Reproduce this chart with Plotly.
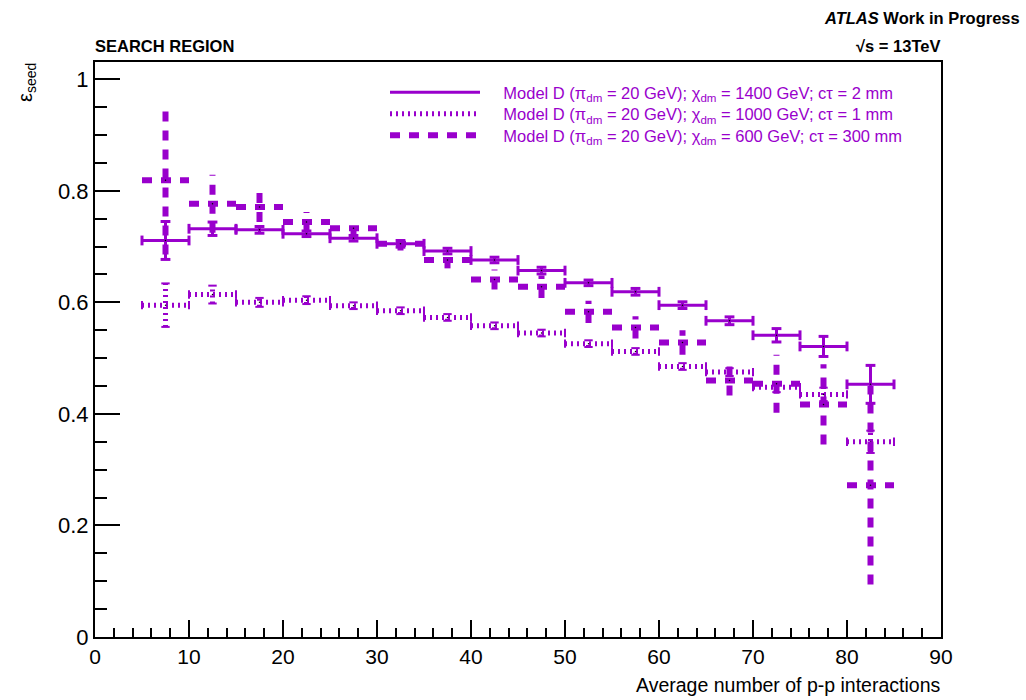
import plotly.graph_objects as go

# ---------------- data ----------------
bin_centers = [7.5, 12.5, 17.5, 22.5, 27.5, 32.5, 37.5, 42.5, 47.5, 52.5,
               57.5, 62.5, 67.5, 72.5, 77.5, 82.5]
bin_halfwidth = 2.5

eff_1400 = [0.711, 0.732, 0.730, 0.723, 0.715, 0.705, 0.692, 0.676, 0.657, 0.635,
            0.619, 0.595, 0.567, 0.541, 0.521, 0.453]
err_1400 = [0.034, 0.012, 0.006, 0.005, 0.005, 0.006, 0.005, 0.005, 0.006, 0.005,
            0.006, 0.006, 0.007, 0.012, 0.018, 0.034]

eff_1000 = [0.595, 0.614, 0.600, 0.604, 0.594, 0.585, 0.573, 0.558, 0.545, 0.526,
            0.512, 0.485, 0.475, 0.448, 0.435, 0.350]
err_1000 = [0.039, 0.016, 0.008, 0.007, 0.006, 0.006, 0.006, 0.006, 0.006, 0.006,
            0.006, 0.006, 0.007, 0.009, 0.012, 0.020]

eff_600 = [0.819, 0.777, 0.771, 0.744, 0.733, 0.705, 0.676, 0.641, 0.628, 0.583,
           0.555, 0.528, 0.460, 0.454, 0.417, 0.272]
err_600 = [0.133, 0.052, 0.027, 0.018, 0.015, 0.012, 0.015, 0.018, 0.020, 0.020,
           0.020, 0.022, 0.027, 0.052, 0.072, 0.178]

names = [
    "&nbsp;&nbsp;&nbsp;&nbsp;Model D (π<sub>dm</sub> = 20 GeV); χ<sub>dm</sub> = 1400 GeV; cτ = 2 mm",
    "&nbsp;&nbsp;&nbsp;&nbsp;Model D (π<sub>dm</sub> = 20 GeV); χ<sub>dm</sub> = 1000 GeV; cτ = 1 mm",
    "&nbsp;&nbsp;&nbsp;&nbsp;Model D (π<sub>dm</sub> = 20 GeV); χ<sub>dm</sub> = 600 GeV; cτ = 300 mm",
]

x_ticks = [0, 10, 20, 30, 40, 50, 60, 70, 80, 90]
y_ticks = [0, 0.2, 0.4, 0.6, 0.8, 1.0]
y_ticktext = ["0", "0.2", "0.4", "0.6", "0.8", "1"]

PURPLE = "#9900cc"
FONT = "Liberation Sans, Arial, Helvetica, sans-serif"


def segments(xc, y, ey, ex):
    xs, ys = [], []
    for xi, yi, e in zip(xc, y, ey):
        xs += [xi - ex, xi + ex, None, xi, xi, None]
        ys += [yi, yi, None, yi - e, yi + e, None]
    return xs, ys


fig = go.Figure()

series = [
    (eff_1400, err_1400, names[0], dict(width=3, dash="solid"), True, "legend"),
    (eff_1000, err_1000, names[1], dict(width=5, dash="2px,4px"), True, "legend2"),
    (eff_600, err_600, names[2], dict(width=6, dash="10px,9px"), False, "legend3"),
]

for i, (yv, ev, nm, ln, caps, lg) in enumerate(series):
    xs, ys = segments(bin_centers, yv, ev, bin_halfwidth)
    fig.add_trace(go.Scatter(x=xs, y=ys, mode="lines", name=nm, legend=lg,
                             line=dict(color=PURPLE, **ln),
                             hoverinfo="skip"))
    if caps:
        cw = 3 if i == 0 else 2
        cs = 7 if i == 0 else 6
        cx = [c + s * bin_halfwidth for c in bin_centers for s in (-1, 1)]
        cy = [v for v in yv for _ in (0, 1)]
        fig.add_trace(go.Scatter(x=cx, y=cy, mode="markers", showlegend=False,
                                 marker=dict(symbol="line-ns", size=cs,
                                             line=dict(color=PURPLE, width=cw)),
                                 hoverinfo="skip"))
        vx = [c for c in bin_centers for _ in (0, 1)]
        vy = [v + s * e for v, e in zip(yv, ev) for s in (-1, 1)]
        fig.add_trace(go.Scatter(x=vx, y=vy, mode="markers", showlegend=False,
                                 marker=dict(symbol="line-ew", size=cs,
                                             line=dict(color=PURPLE, width=cw)),
                                 hoverinfo="skip"))
    fig.add_trace(go.Scatter(x=bin_centers, y=yv, mode="markers", showlegend=False,
                             marker=dict(size=1.5, color="black"), hoverinfo="skip"))

axis_common = dict(showline=True, linewidth=2, linecolor="black", mirror=True,
                   showgrid=False, zeroline=False, ticks="inside",
                   tickcolor="black", tickwidth=1.5)

fig.update_xaxes(range=[0, 90], tickvals=x_ticks, ticklen=17,
                 tickfont=dict(family=FONT, size=21, color="black"),
                 minor=dict(dtick=2, ticklen=9, ticks="inside",
                            tickcolor="black", tickwidth=1.5),
                 **axis_common)
fig.update_yaxes(range=[0, 1.031], tickvals=y_ticks, ticktext=y_ticktext,
                 ticklen=25,
                 tickfont=dict(family=FONT, size=22, color="black"),
                 minor=dict(dtick=0.05, ticklen=12, ticks="inside",
                            tickcolor="black", tickwidth=1.5),
                 **axis_common)

PH = 700 - 62 - 62.5
PW = 846.0


def px(xp):
    return (xp - 95) / PW


def py(yp):
    return (637.5 - yp) / PH


def legend_at(top):
    return dict(x=px(385), y=py(top), xanchor="left", yanchor="top",
                bgcolor="rgba(0,0,0,0)", itemwidth=90, tracegroupgap=0,
                font=dict(family=FONT, size=16.5, color=PURPLE))


fig.update_layout(
    width=1026, height=700,
    margin=dict(l=95, r=85, t=62, b=62.5, pad=0),
    paper_bgcolor="white", plot_bgcolor="white",
    font=dict(family=FONT, color="black"),
    showlegend=True,
    legend=legend_at(75),
    legend2=legend_at(96.5),
    legend3=legend_at(118),
    annotations=[
        dict(text="<b>SEARCH REGION</b>", x=px(93), y=py(46), xref="paper", yref="paper",
             xanchor="left", yanchor="middle", showarrow=False,
             font=dict(family=FONT, size=16.5, color="black")),
        dict(text="<b><i>ATLAS</i> Work in Progress</b>", x=px(1022), y=py(18),
             xref="paper", yref="paper", xanchor="right", yanchor="middle",
             showarrow=False, font=dict(family=FONT, size=16.5, color="black")),
        dict(text="<b>√s = 13TeV</b>", x=px(942), y=py(46),
             xref="paper", yref="paper", xanchor="right", yanchor="middle",
             showarrow=False, font=dict(family=FONT, size=16.5, color="black")),
        dict(text="ε<sub>seed</sub>", x=px(27), y=py(83), xref="paper", yref="paper",
             xanchor="center", yanchor="middle", textangle=-90, showarrow=False,
             font=dict(family=FONT, size=20, color="black")),
        dict(text="Average number of p-p interactions", x=px(942), y=py(686),
             xref="paper", yref="paper", xanchor="right", yanchor="middle",
             showarrow=False, font=dict(family=FONT, size=19.5, color="black")),
    ],
)

fig.write_html("out.html")
